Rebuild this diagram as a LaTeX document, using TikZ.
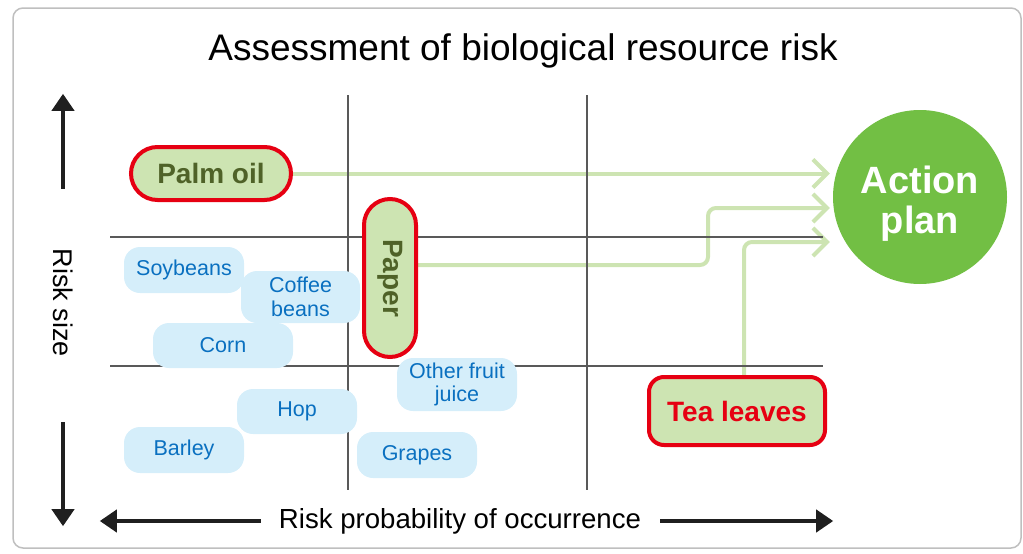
\documentclass[tikz,border=0pt]{standalone}
\usepackage{fontspec}
\setmainfont{Liberation Sans}
\usepackage{tikz}
\usetikzlibrary{arrows.meta,backgrounds,calc}
\definecolor{leafgreen}{HTML}{CDE4B2}
\definecolor{alertred}{HTML}{E60012}
\definecolor{oilgreen}{HTML}{4F6228}
\definecolor{plangreen}{HTML}{72BF44}
\definecolor{skyfill}{HTML}{D5EEFA}
\definecolor{skytext}{HTML}{0A70C0}
\tikzset{
  crop/.style={fill=skyfill,text=skytext,rounded corners=16pt,minimum width=120pt,align=center,font=\fontsize{21.5}{23.5}\selectfont,inner sep=0pt},
  risk/.style={fill=leafgreen,draw=alertred,line width=4pt,font=\bfseries\fontsize{28}{30}\selectfont,inner sep=0pt},
  link/.style={draw=leafgreen,line width=4pt,-{Straight Barb[length=14pt,width=28pt]},shorten >=3pt},
  axis/.style={draw=black!88,line width=4pt,-{Triangle[length=17pt,width=22pt]}},
  gridline/.style={draw=black!65,line width=1.2pt},
  frame/.style={draw=black!25,line width=1.5pt,rounded corners=10pt}
}

\begin{document}
\begin{tikzpicture}[x=1pt,y=-1pt]
\useasboundingbox (0,0) rectangle (1023,554);
\node[font=\fontsize{37}{40}\selectfont,anchor=base] (title) at (523,60) {Assessment of biological resource risk};

\node[risk,text=oilgreen,minimum width=160pt,minimum height=53pt,rounded corners=26.5pt] (palm) at (211,173.5) {Palm oil};
\node[risk,text=oilgreen,rotate=-90,minimum width=158pt,minimum height=52pt,rounded corners=26pt] (paper) at (390,278) {Paper};
\node[risk,text=alertred,minimum width=176pt,minimum height=68pt,rounded corners=15pt] (tea) at (737,411) {Tea leaves};
\node[circle,fill=plangreen,text=white,minimum size=174pt,inner sep=0pt,align=center,text height=81pt,font=\bfseries\fontsize{38}{40}\selectfont] (plan) at (920,197) {Action\\plan};

\node[crop,minimum height=46pt] (soy) at (184,270) {Soybeans};
\node[crop,minimum width=119pt,minimum height=52pt] (coffee) at (300.5,297) {Coffee\\beans};
\node[crop,minimum width=140pt,minimum height=45pt] (corn) at (223,345.5) {Corn};
\node[crop,minimum height=53pt] (juice) at (457,384.5) {Other fruit\\juice};
\node[crop,minimum height=45pt] (hop) at (297,411.5) {Hop};
\node[crop,minimum height=46pt] (barley) at (184,450) {Barley};
\node[crop,minimum height=46pt] (grapes) at (417,455) {Grapes};

\node[rotate=-90,font=\fontsize{27}{30}\selectfont,inner sep=0pt] (size) at (63,303) {Risk size};
\node[font=\fontsize{27.6}{30}\selectfont,inner sep=0pt] (prob) at (460,521) {Risk probability of occurrence};
\draw[axis] ([yshift=60pt]size.west) -- ([yshift=155pt]size.west);
\draw[axis] ([yshift=-65pt]size.east) -- ([yshift=-169pt]size.east);
\draw[axis] ([xshift=-18pt]prob.west) -- ([xshift=-179pt]prob.west);
\draw[axis] ([xshift=19pt]prob.east) -- ([xshift=192pt]prob.east);

\begin{scope}[on background layer]
\draw[link] (palm.east) -- (palm.east -| plan.west);
\draw[link,rounded corners=8pt] ([yshift=13pt]paper.north) -- (708,265) -- (708,208) -- ([yshift=-11pt]plan.west);
\draw[link,rounded corners=8pt] ([xshift=7pt]tea.north) |- ([yshift=-45pt]plan.west);
\draw[gridline] (348,95) -- (348,490) (587,95) -- (587,490) (110,237) -- (823,237) (110,366) -- (823,366);
\draw[frame] (13,8) rectangle (1021,548);
\end{scope}
\end{tikzpicture}
\end{document}
